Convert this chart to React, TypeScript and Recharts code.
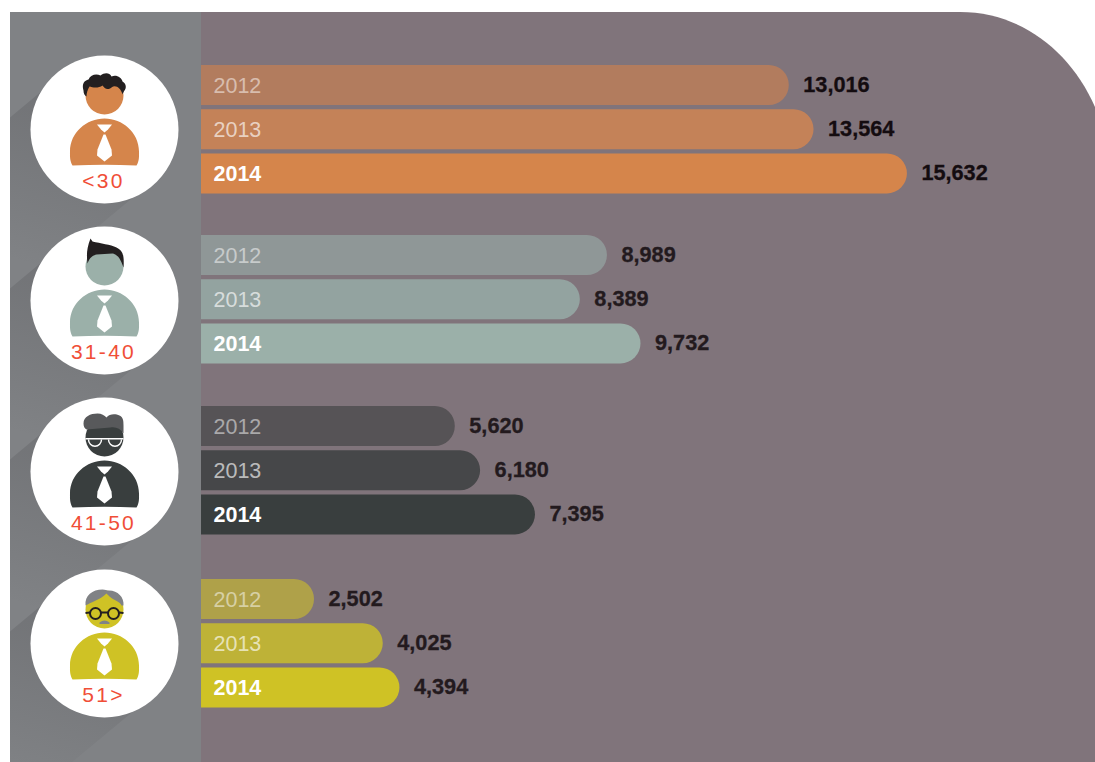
import React from "react";
import { BarChart, Bar, XAxis, YAxis, Cell, LabelList } from "recharts";

const years = ["2012", "2013", "2014"];
const ageLabels = ["<30", "31-40", "41-50", "51>"];
const valuesUnder30 = [13016, 13564, 15632];
const values31to40 = [8989, 8389, 9732];
const values41to50 = [5620, 6180, 7395];
const values51plus = [2502, 4025, 4394];
const seriesByAge = [valuesUnder30, values31to40, values41to50, values51plus];

const palettes = [
  ["#b27c5e", "#c48258", "#d5854b"],
  ["#8f9797", "#93a3a0", "#9bb0a9"],
  ["#565356", "#464749", "#393e3e"],
  ["#afa149", "#beb237", "#cfc225"],
];
const iconColors = ["#d5854b", "#9bb0a9", "#393e3e", "#cfc225"];
const valueColors = ["#140c10", "#231a1e", "#231a1e", "#231a1e"];
const yearFills = ["rgba(255,255,255,0.5)", "rgba(255,255,255,0.65)", "#ffffff"];

const FONT = '"Liberation Sans", Arial, sans-serif';
const chartTops = [63, 233, 404, 576.6];
const circleCentres = [129.5, 300.5, 471.5, 643.5];
const CX = 104.5;

const YearLabel = (props: any) => {
  const { x, y, height, value, index } = props;
  const bold = index === 2;
  return (
    <text
      x={x + 12.5}
      y={y + height / 2 + 1}
      dominantBaseline="central"
      fill={yearFills[index]}
      fontFamily={FONT}
      fontSize={21.5}
      fontWeight={bold ? 700 : 400}
    >
      {value}
    </text>
  );
};

const makeValueLabel = (color: string) => (props: any) => {
  const { x, y, width, height, value } = props;
  return (
    <text
      x={x + width + 14.5}
      y={y + height / 2 - 0.5}
      dominantBaseline="central"
      fill={color}
      stroke={color}
      strokeWidth={0.3}
      fontFamily={FONT}
      fontSize={21.7}
      fontWeight={700}
    >
      {Number(value).toLocaleString("en-US")}
    </text>
  );
};

function Hair({ kind }: { kind: number }) {
  if (kind === 0) {
    return (
      <path
        fill="#231f20"
        d="M-21,-39 C-23,-46 -20,-49 -16,-50 C-14,-55 -8,-56 -4,-54 C0,-57 5,-57 7,-53 C12,-55 17,-52 18,-48 C22,-46 22,-41 20,-39 C19,-37 18,-36 18,-35 C16,-42 11,-45 7,-42 C3,-39 0,-41 -2,-44 C-6,-41 -12,-42 -15,-43 C-17,-40 -18,-36 -18,-33 C-20,-34 -21,-36 -21,-39 Z"
      />
    );
  }
  if (kind === 1) {
    return (
      <path
        fill="#231f20"
        d="M-14,-62 L-12,-59 C-4,-57 6,-56 12,-53 C18,-50 20,-46 19,-33 C16,-42 13,-46 8,-47 L-8,-46 C-12,-45 -15,-43 -17,-37 C-18,-45 -18,-52 -14,-62 Z"
      />
    );
  }
  if (kind === 2) {
    return (
      <g>
        <path
          fill="#58595b"
          d="M-21,-48 C-21,-55 -14,-58 -7,-58 C-3,-58 0,-56 2,-54 C5,-58 11,-58 15,-56 C19,-54 19,-50 19,-46 L19,-38 C16,-43 11,-45 6,-44 L-18,-42 C-20,-43 -21,-45 -21,-48 Z"
        />
        <path fill="#fff" d="M-19,-33.5 H19 V-32 H-19 Z" />
        <path fill="none" stroke="#fff" strokeWidth={1.4} d="M-16,-32 A6.2,6.5 0 0 0 -3,-32 M4,-32 A6.2,6.5 0 0 0 17,-32" />
      </g>
    );
  }
  return (
    <g>
      <path
        fill="#808285"
        d="M-19,-38 C-20,-48 -12,-54 -2,-54 C1,-54 2,-53 3,-53 C12,-54 20,-47 19,-38 L17,-38 C16,-42 9,-43 5,-47 L2,-50 C-3,-45 -11,-42 -17,-39 Z"
      />
      <g fill="none" stroke="#231f20" strokeWidth={2}>
        <circle cx={-9} cy={-30} r={5.5} />
        <circle cx={9} cy={-30} r={5.5} />
        <path d="M-3.5,-31 H3.5 M-14.5,-31 L-19,-30.5 M14.5,-31 L19,-30.5" />
      </g>
      <path fill="#808285" d="M-5,-21 Q0,-25 5,-21 L5,-19.5 L-5,-19.5 Z" />
    </g>
  );
}

function Person({ index }: { index: number }) {
  const cy = circleCentres[index];
  const fill = iconColors[index];
  return (
    <g transform={`translate(${CX},${cy})`}>
      <circle r={74} fill="#ffffff" />
      <circle cx={0} cy={-34} r={19} fill={fill} />
      <Hair kind={index} />
      <path
        fill={fill}
        d="M-32,36 C-35,31 -34.5,26 -34.5,22 C-34.5,3 -18,-11 0,-11 C18,-11 34.5,3 34.5,22 C34.5,26 35,31 32,36 Q0,34.5 -32,36 Z"
      />
      <path fill="#fff" d="M-7.5,-5 H7.5 L3.5,0 L0,3 L-3.5,0 Z" />
      <path fill="#fff" d="M-1,5 H1 L7,20 L7.5,26 L0,32 L-7.5,26 L-7,20 Z" />
      <text
        x={-1}
        y={58.5}
        textAnchor="middle"
        fill="#f04e37"
        fontFamily={FONT}
        fontSize={21}
        letterSpacing={2.3}
      >
        {ageLabels[index]}
      </text>
    </g>
  );
}

function Backdrop() {
  return (
    <svg width={1095} height={762} style={{ position: "absolute", left: 0, top: 0 }}>
      <defs>
        <clipPath id="side">
          <rect x={10} y={12} width={191} height={750} />
        </clipPath>
        {circleCentres.map((cy, i) => (
          <linearGradient
            key={i}
            id={`sh${i}`}
            gradientUnits="userSpaceOnUse"
            x1={55}
            y1={cy - 10}
            x2={10}
            y2={cy + 130}
          >
            <stop offset="0" stopColor="#3a3a3e" stopOpacity={0.18} />
            <stop offset="1" stopColor="#3a3a3e" stopOpacity={0} />
          </linearGradient>
        ))}
      </defs>
      <path d="M10,12 H960 C1020,12 1070,50 1095,107 V762 H10 Z" fill="#80747b" />
      <rect x={10} y={12} width={191} height={750} fill="#808285" />
      <g clipPath="url(#side)">
        {circleCentres.map((cy, i) => (
          <path
            key={i}
            fill={`url(#sh${i})`}
            d={`M10,${cy - 12} L70,${cy - 62} L133,${cy + 68} L-20,${cy + 195} L-20,${cy + 20} Z`}
          />
        ))}
      </g>
      {circleCentres.map((_, i) => (
        <Person key={i} index={i} />
      ))}
    </svg>
  );
}

export default function App() {
  return (
    <div
      style={{
        position: "absolute",
        left: 0,
        top: 0,
        width: 1095,
        height: 762,
        overflow: "hidden",
        background: "#ffffff",
      }}
    >
      <Backdrop />
      {seriesByAge.map((values, g) => {
        const rows = years.map((year, i) => ({ year, value: values[i] }));
        return (
          <div key={g} style={{ position: "absolute", left: 201, top: chartTops[g] }}>
            <BarChart
              width={800}
              height={132.6}
              data={rows}
              layout="vertical"
              margin={{ top: 0, right: 0, bottom: 0, left: 0 }}
            >
              <XAxis type="number" hide domain={[0, 17715]} />
              <YAxis type="category" dataKey="year" hide />
              <Bar dataKey="value" barSize={40} radius={[0, 20, 20, 0]} isAnimationActive={false}>
                {rows.map((_, i) => (
                  <Cell key={i} fill={palettes[g][i]} />
                ))}
                <LabelList dataKey="year" content={YearLabel} />
                <LabelList dataKey="value" content={makeValueLabel(valueColors[g])} />
              </Bar>
            </BarChart>
          </div>
        );
      })}
    </div>
  );
}
